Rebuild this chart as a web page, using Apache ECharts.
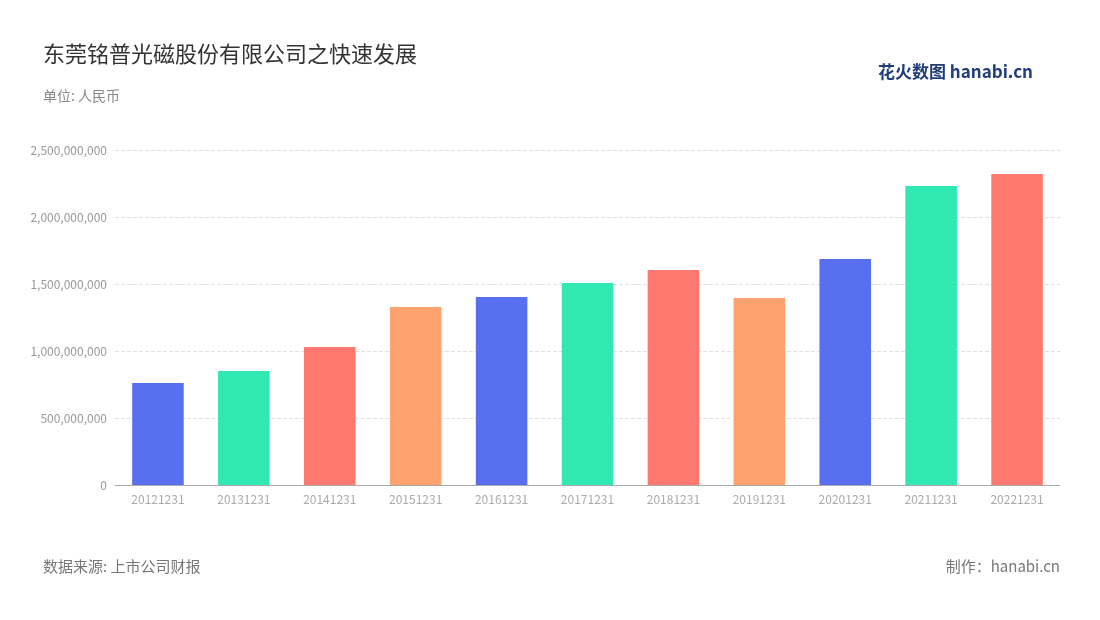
<!DOCTYPE html>
<html><head><meta charset="utf-8">
<script src="https://cdn.jsdelivr.net/npm/echarts@6/dist/echarts.min.js"></script>
<style>html,body{margin:0;padding:0;background:#fff}#c{width:1100px;height:620px}</style>
</head><body><div id="c"></div>
<script>
const categories = ['20121231','20131231','20141231','20151231','20161231','20171231','20181231','20191231','20201231','20211231','20221231'];
const values = [761000000, 851000000, 1030000000, 1328000000, 1403000000, 1507000000, 1604000000, 1396000000, 1687000000, 2231000000, 2321000000];
const palette = ['#5870F0', '#2FE8B2', '#FF7870', '#FFA26F'];
const font = '"Noto Sans CJK SC", "Noto Sans", sans-serif';
const chart = echarts.init(document.getElementById('c'));
chart.setOption({
  textStyle: { fontFamily: font },
  title: [
    { text: '东莞铭普光磁股份有限公司之快速发展', left: 38, top: 38, textStyle: { fontSize: 22, fontWeight: 'normal', color: '#333', fontFamily: font } },
    { text: '单位: 人民币', left: 38, top: 84, textStyle: { fontSize: 14, fontWeight: 'normal', color: '#888', fontFamily: font } },
    { text: '数据来源: 上市公司财报', left: 38, top: 554, textStyle: { fontSize: 15, fontWeight: 'normal', color: '#777', fontFamily: font } },
    { text: '制作：hanabi.cn', right: 35, top: 554, textStyle: { fontSize: 15, fontWeight: 'normal', color: '#777', fontFamily: font } },
    { text: '花火数图 hanabi.cn', right: 62, top: 58, textStyle: { fontSize: 17, fontWeight: 'bold', color: '#1f3d7a', fontFamily: font } }
  ],
  grid: { left: 115, right: 40, top: 150, bottom: 135 },
  xAxis: {
    type: 'category', data: categories,
    axisLine: { lineStyle: { color: '#aaa' } }, axisTick: { show: false },
    axisLabel: { color: '#aaa', fontSize: 12 }
  },
  yAxis: {
    type: 'value', min: 0, max: 2500000000, interval: 500000000,
    axisLine: { show: false }, axisTick: { show: false },
    axisLabel: { color: '#999', fontSize: 12, formatter: v => v.toLocaleString('en-US') },
    splitLine: { lineStyle: { type: 'dashed', color: '#e0e0e0' } }
  },
  series: [{
    type: 'bar', barWidth: '60%',
    data: values.map((v, i) => ({ value: v, itemStyle: { color: palette[i % 4] } }))
  }]
});
</script></body></html>
